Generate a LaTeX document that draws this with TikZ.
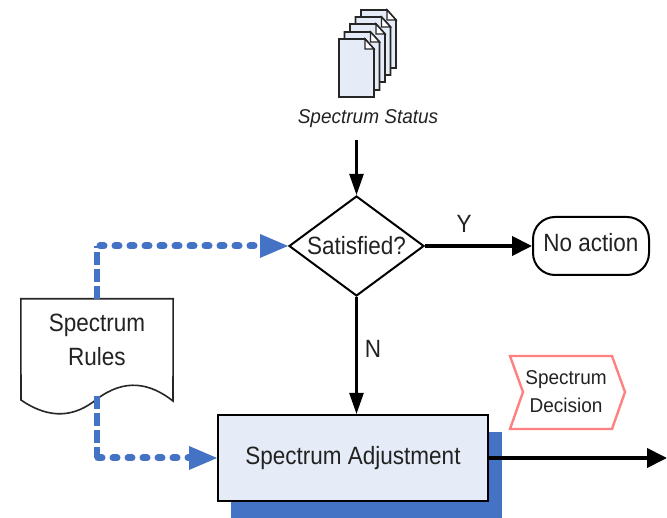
\documentclass[tikz,border=0pt]{standalone}
\usepackage{fontspec}
\setmainfont{Liberation Sans}
\newfontfamily\narrowface[FakeStretch=0.9]{Liberation Sans}
\newfontfamily\statusface[FakeStretch=0.95,ItalicFont={Liberation Sans Italic}]{Liberation Sans}
\usetikzlibrary{arrows.meta,shapes.geometric,calc}
\definecolor{bluedk}{HTML}{4472C4}
\definecolor{bluelt}{HTML}{E6ECF7}
\definecolor{pinkln}{HTML}{FF8080}
\definecolor{txt}{HTML}{222222}
\tikzset{
  x=1pt,y=-1pt,
  lbl/.style={text=txt,font=\narrowface\fontsize{25}{34}\selectfont,align=center,inner sep=0pt},
  sheet/.style={draw=black!85,line width=1.8pt,fill=bluelt,line join=miter},
  flow/.style={draw=black,line width=2.4pt,-{Triangle[length=21pt,width=14pt]}},
  strong/.style={draw=black,line width=4pt,-{Triangle[length=20pt,width=19pt]}},
  bluevert/.style={draw=bluedk,line width=6pt,dash pattern=on 13pt off 4pt},
  bluehor/.style={draw=bluedk,line width=7pt,line cap=round,dash pattern=on 4pt off 11pt},
  bluetip/.style={draw=none,fill=bluedk},
}
\newcommand{\docpage}[2]{%
  \path[sheet] (#1,#2) -- ++(26,0) -- ++(9,10) -- ++(0,48) -- ++(-35,0) -- cycle;
  \path[draw=black!85,line width=1.4pt,fill=white] (#1+26,#2) -- ++(0,10) -- ++(9,0) -- cycle;
}
\begin{document}
\begin{tikzpicture}
\useasboundingbox (0,0) rectangle (667,518);
% shadow of the adjustment box
\fill[bluedk] (231,432) rectangle (502,518);
% document stack
\docpage{361}{10}
\docpage{355.5}{17}
\docpage{350}{24}
\docpage{344.5}{32}
\docpage{339}{39}
\node[text=txt,font=\statusface\fontsize{20}{24}\selectfont\itshape,inner sep=0pt] (status) at (368,119) {Spectrum Status};
% decision
\node[diamond,draw=black,line width=2pt,shape aspect=1.35,minimum width=135pt,minimum height=100pt,inner sep=0pt,lbl] (sat) at (356.5,246) {Satisfied?};
% terminator
\node[rounded corners=22pt,draw=black,line width=2pt,minimum width=116pt,minimum height=58pt,inner sep=0pt,text depth=7pt,lbl] (none) at (591,246) {No action};
% rules document
\node[minimum width=152pt,minimum height=101pt,inner sep=0pt] (rules) at (97,349.5) {};
\draw[black!85,line width=1.6pt,fill=white] (rules.north west) -- (rules.north east) -- (173,401)
  .. controls (150,383) and (125,378) .. (97,399)
  .. controls (75,417) and (50,420) .. (21,400) -- cycle;
\node[lbl] (rulestxt) at (97,340) {Spectrum\\Rules};
% adjustment box
\node[rectangle,draw=black,line width=2pt,fill=bluelt,minimum width=270pt,minimum height=86pt,inner sep=0pt,lbl] (adj) at (353,458) {Spectrum Adjustment};
% decision tag
\coordinate (tagc) at (566,392);
\draw[pinkln,line width=2.4pt,fill=white] (510,356) -- (612,356) -- (625,392) -- (612,429) -- (510,429) -- (523,392) -- cycle;
\node[text=txt,font=\statusface\fontsize{20}{28}\selectfont,align=center,inner sep=0pt] (tag) at (tagc) {Spectrum\\Decision};
% connectors
\coordinate (in) at (sat.north |- 0,140);
\draw[flow] (in) -- (sat.north);
\draw[strong] (sat.east) -- (none.west);
\draw[flow] (sat.south) -- (adj.north -| sat.south);
\node[lbl] (ylab) at (464,224) {Y};
\node[lbl] (nlab) at (373,349) {N};
\coordinate (out) at (667,458);
\draw[strong] (adj.east) -- (out);
% dashed blue flows
\coordinate (c1) at (rules.north |- sat.west);
\coordinate (c2) at (rules.south |- adj.west);
\draw[bluevert] (rules.north) -- (c1);
\draw[bluehor] ($(c1)+(3,0)$) -- ($(sat.west)+(-25,0)$);
\path[bluetip] (sat.west) -- ++(-28,-12) -- ++(0,24) -- cycle;
\draw[bluevert] ($(rules.south)+(0,-4)$) -- (c2);
\draw[bluehor] ($(c2)+(1,0)$) -- ($(adj.west)+(-25,0)$);
\path[bluetip] (adj.west) -- ++(-28,-12) -- ++(0,24) -- cycle;
\end{tikzpicture}
\end{document}
